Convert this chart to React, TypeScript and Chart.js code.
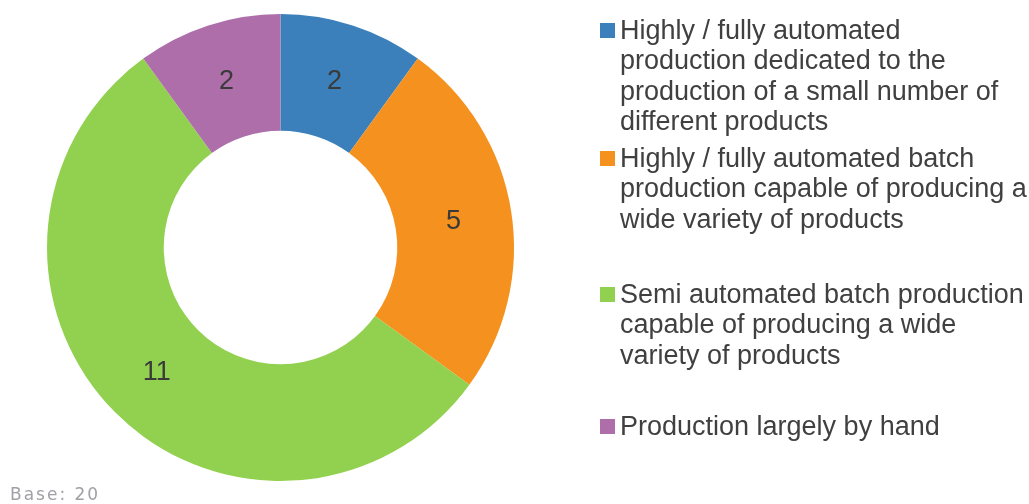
import React, { useEffect, useRef } from "react";
import { Chart, registerables } from "chart.js";

Chart.register(...registerables);

const categories: string[][] = [
  ["Highly / fully automated", "production dedicated to the", "production of a small number of", "different products"],
  ["Highly / fully automated batch", "production capable of producing a", "wide variety of products"],
  ["Semi automated batch production", "capable of producing a wide", "variety of products"],
  ["Production largely by hand"],
];
const values: number[] = [2, 5, 11, 2];
const colors: string[] = ["#3B80BA", "#F5921F", "#92D14F", "#AD6EAA"];
const baseNote = "Base: 20";

const FONT = '"Liberation Sans", Arial, sans-serif';
const legendFirstBaselines = [39, 167, 303, 435];

const overlay = {
  id: "overlay",
  afterDatasetsDraw(chart: any) {
    const ctx = chart.ctx;
    const meta = chart.getDatasetMeta(0);
    ctx.save();
    ctx.font = `27px ${FONT}`;
    ctx.fillStyle = "#3a3a3a";
    ctx.textAlign = "center";
    ctx.textBaseline = "middle";
    meta.data.forEach((arc: any, i: number) => {
      const p = arc.tooltipPosition();
      ctx.fillText(String(values[i]), p.x, p.y + 1);
    });
    ctx.restore();
  },
  afterDraw(chart: any) {
    const ctx = chart.ctx;
    ctx.save();
    ctx.font = `27px ${FONT}`;
    ctx.textAlign = "left";
    ctx.textBaseline = "alphabetic";
    categories.forEach((lines, i) => {
      const b = legendFirstBaselines[i];
      ctx.fillStyle = colors[i];
      ctx.fillRect(600, b - 16, 15, 15);
      ctx.fillStyle = "#404040";
      lines.forEach((ln, j) => {
        ctx.fillText(ln, 620, b + j * 30.3);
      });
    });
    ctx.font = `17px "DejaVu Sans", Verdana, sans-serif`;
    ctx.fillStyle = "#a0a0a6";
    try {
      (ctx as any).letterSpacing = "2px";
    } catch (e) {}
    ctx.fillText(baseNote, 10, 500);
    ctx.restore();
  },
};

export default function App() {
  const ref = useRef<HTMLCanvasElement | null>(null);
  useEffect(() => {
    if (!ref.current) return;
    const chart = new Chart(ref.current, {
      type: "doughnut",
      data: {
        labels: categories.map((l) => l.join(" ")),
        datasets: [
          {
            data: values,
            backgroundColor: colors,
            borderWidth: 0,
          },
        ],
      },
      options: {
        responsive: false,
        animation: false,
        devicePixelRatio: 1,
        cutout: "50%",
        layout: { padding: { left: 47, top: 14, right: 515, bottom: 23 } },
        plugins: {
          legend: { display: false },
          tooltip: { enabled: false },
          title: { display: false },
        },
      },
      plugins: [overlay],
    });
    return () => chart.destroy();
  }, []);
  return (
    <div style={{ position: "fixed", left: 0, top: 0, width: 1029, height: 504, background: "#fff" }}>
      <canvas ref={ref} width={1029} height={504} />
    </div>
  );
}
